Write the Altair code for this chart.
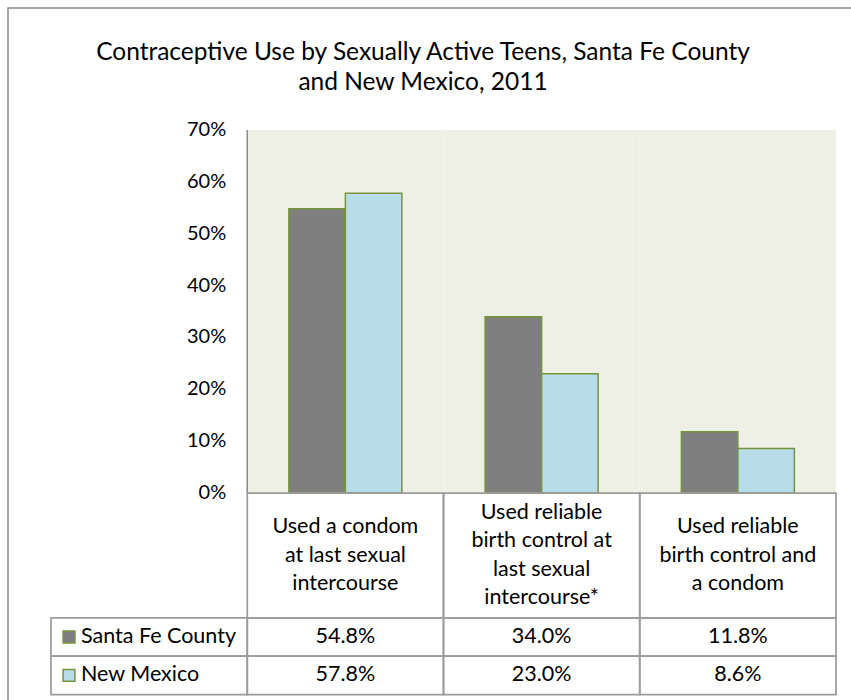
import altair as alt
import pandas as pd

# ---------------- data ----------------
title_lines = ["Contraceptive Use by Sexually Active Teens, Santa Fe County",
               "and New Mexico, 2011"]
categories = [
    "Used a condom\nat last sexual\nintercourse",
    "Used reliable\nbirth control at\nlast sexual\nintercourse*",
    "Used reliable\nbirth control and\na condom",
]
series = ["Santa Fe County", "New Mexico"]
santa_fe = [54.8, 34.0, 11.8]
new_mexico = [57.8, 23.0, 8.6]
y_ticks = [0, 10, 20, 30, 40, 50, 60, 70]

# ---------------- style / layout ----------------
FONT = "Lato"
GRAY = "#7F7F7F"
BLUE = "#B7DEE8"
GREEN = "#77933C"
BG = "#EEF0E6"
LINE = "#9C9C9C"
KEY = "key"
TXT = 21.5

W, H = 785, 565
PAD_L, PAD_T = 51, 130
Y_MIN, Y_MAX = -38.95, 70
PPU = H / (Y_MAX - Y_MIN)          # pixels per percentage unit
HEADER_BOTTOM = -24.1
ROW_EDGES = [HEADER_BOTTOM, -31.43, -38.9]
HEADER_MID = (0 + HEADER_BOTTOM) / 2
LINE_H = 28.5 / PPU

columns = [KEY] + categories
x_scale = alt.Scale(domain=columns, paddingInner=0, paddingOuter=0)
y_scale = alt.Scale(domain=[Y_MIN, Y_MAX], nice=False, zero=False)
color_scale = alt.Scale(domain=series, range=[GRAY, BLUE])

values_by_series = {series[0]: santa_fe, series[1]: new_mexico}

bars_df = pd.DataFrame([
    {"category": c, "series": s, "value": values_by_series[s][i]}
    for s in series for i, c in enumerate(categories)
])

bg_df = pd.DataFrame({"category": categories, "top": Y_MAX, "bottom": 0})

rows = []
for r, s in enumerate(series):
    top, bottom = ROW_EDGES[r], ROW_EDGES[r + 1]
    for col in columns:
        rows.append({"column": col, "series": s, "top": top, "bottom": bottom,
                     "mid": (top + bottom) / 2})
cells_df = pd.DataFrame(rows)

value_text_df = pd.DataFrame([
    {"column": c, "series": s, "label": f"{values_by_series[s][i]:.1f}%",
     "mid": (ROW_EDGES[r] + ROW_EDGES[r + 1]) / 2}
    for r, s in enumerate(series) for i, c in enumerate(categories)
])
legend_df = cells_df[cells_df["column"] == KEY].copy()

header_df = pd.DataFrame({"category": categories, "top": 0, "bottom": HEADER_BOTTOM})

header_lines = []
for c in categories:
    parts = c.split("\n")
    n = len(parts)
    for i, p in enumerate(parts):
        header_lines.append({"category": c, "line": p,
                             "y": HEADER_MID + ((n - 1) / 2 - i) * LINE_H})
header_lines_df = pd.DataFrame(header_lines)

ticks_df = pd.DataFrame({"column": KEY, "tick": y_ticks,
                         "label": [f"{t}%" for t in y_ticks]})

X = lambda f, **kw: alt.X(f, type="nominal", scale=x_scale, axis=None, **kw)
Y = lambda f, **kw: alt.Y(f, type="quantitative", scale=y_scale, axis=None, **kw)

frame = alt.Chart(alt.Data(values=[{}])).mark_rect(
    fillOpacity=0, stroke="#8A8A8A", strokeWidth=1.5
).encode(x=alt.value(-43), x2=alt.value(830), y=alt.value(-122), y2=alt.value(600))

bg = alt.Chart(bg_df).mark_rect(fill=BG).encode(
    x=X("category"), y=Y("top"), y2="bottom")

axis_line = alt.Chart(bg_df.iloc[:1]).mark_rule(color="#8A8A8A", strokeWidth=1.5).encode(
    x=X("category", bandPosition=0), y=Y("top"), y2="bottom")

tick_labels = alt.Chart(ticks_df).mark_text(
    font=FONT, fontSize=20, align="right", baseline="middle", color="#000", dx=-21
).encode(x=X("column", bandPosition=1), y=Y("tick"), text="label:N")

bars = alt.Chart(bars_df).mark_bar(stroke=GREEN, strokeWidth=1.5).encode(
    x=X("category"),
    xOffset=alt.XOffset("series:N", sort=series,
                        scale=alt.Scale(domain=series, paddingInner=0, paddingOuter=0.737)),
    y=Y("value"),
    color=alt.Color("series:N", scale=color_scale, legend=None),
)

header_cells = alt.Chart(header_df).mark_rect(
    fillOpacity=0, stroke=LINE, strokeWidth=1.75).encode(
    x=X("category"), y=Y("top"), y2="bottom")

value_cells = alt.Chart(cells_df).mark_rect(
    fillOpacity=0, stroke=LINE, strokeWidth=1.75).encode(
    x=X("column"), y=Y("top"), y2="bottom")

header_text = alt.Chart(header_lines_df).mark_text(
    font=FONT, fontSize=TXT, baseline="middle", align="center", color="#000").encode(
    x=X("category"), y=Y("y"), text="line:N")

value_text = alt.Chart(value_text_df).mark_text(
    font=FONT, fontSize=TXT, baseline="middle", align="center", color="#000").encode(
    x=X("column"), y=Y("mid"), text="label:N")

legend_sq = alt.Chart(legend_df).mark_point(
    shape="square", size=140, filled=True, opacity=1, stroke=GREEN,
    strokeWidth=1.5).encode(
    x=X("column", bandPosition=0), xOffset=alt.value(18), y=Y("mid"),
    fill=alt.Fill("series:N", scale=color_scale, legend=None))

legend_text = alt.Chart(legend_df).mark_text(
    font=FONT, fontSize=TXT, baseline="middle", align="left", color="#000", dx=30).encode(
    x=X("column", bandPosition=0), y=Y("mid"), text="series:N")

title = alt.Chart(alt.Data(values=[{}])).mark_text(
    font=FONT, fontSize=24.5, lineHeight=30, baseline="middle", align="center",
    color="#000", lineBreak="\n").encode(
    x=alt.value(423 - PAD_L), y=alt.value(53 - PAD_T),
    text=alt.value("\n".join(title_lines)))

chart = alt.layer(
    frame, bg, bars, axis_line, tick_labels, header_cells, value_cells,
    header_text, value_text, legend_sq, legend_text, title
).properties(
    width=W, height=H,
    autosize=alt.AutoSizeParams(type="none"),
    padding={"left": PAD_L, "top": PAD_T, "right": 851 - PAD_L - W, "bottom": 700 - PAD_T - H},
).configure_view(stroke=None)

chart.save("out.html", embed_options={"renderer": "svg", "actions": False})
